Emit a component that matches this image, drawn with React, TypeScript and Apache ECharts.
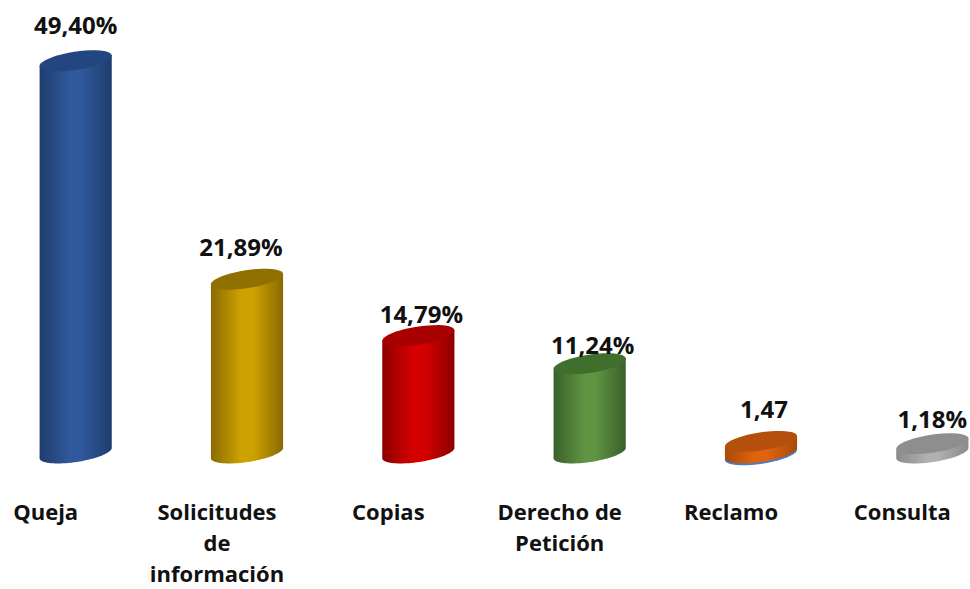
import React, { useEffect, useRef } from "react";
import * as echarts from "echarts";

const categories = ["Queja", "Solicitudes\nde\ninformación", "Copias", "Derecho de\nPetición", "Reclamo", "Consulta"];
const values = [49.4, 21.89, 14.79, 11.24, 1.47, 1.18];
const valueLabels = ["49,40%", "21,89%", "14,79%", "11,24%", "1,47", "1,18%"];

const edgeColors = ["#1f3d6e", "#8a6a00", "#8c0000", "#39602a", "#a84a08", "#8a8a8a"];
const midColors = ["#30589c", "#cda200", "#d40000", "#5f9443", "#e0640f", "#b0b0b0"];
const capColors = ["#234680", "#8f7000", "#a80000", "#406e2c", "#b4500c", "#8e8e8e"];
const rimColors = [null, null, null, null, "#3f7fd0", null];
const labelLift = [36, 33, 22, 19, 33, 25];
const labelShift = [0, -6, 3, 3, 3, 0];

const FONT = "'Open Sans', 'Noto Sans', sans-serif";
const RX = 36.5;
const RY = 9;
const TILT = (8.7 * Math.PI) / 180;

// Points of the tilted ellipse from angle a to angle b, as "x y" strings.
function ellipsePts(cx: number, cy: number, a: number, b: number) {
  const out: string[] = [];
  const n = 40;
  for (let k = 0; k <= n; k++) {
    const t = a + ((b - a) * k) / n;
    const x = cx + RX * Math.cos(t) * Math.cos(TILT) + RY * Math.sin(t) * Math.sin(TILT);
    const y = cy - RX * Math.cos(t) * Math.sin(TILT) + RY * Math.sin(t) * Math.cos(TILT);
    out.push(`${x.toFixed(2)} ${y.toFixed(2)}`);
  }
  return out;
}
const toPath = (pts: string[]) => "M " + pts.join(" L ") + " Z";

export default function App() {
  const ref = useRef<HTMLDivElement>(null);
  useEffect(() => {
    const chart = echarts.init(ref.current!, null, { renderer: "svg" });
    const renderItem = (params: any, api: any) => {
      const i = params.dataIndex;
      const [cx, top] = api.coord([api.value(0), api.value(1)]);
      const [, base] = api.coord([api.value(0), 0]);
      const children: any[] = [];
      const rim = rimColors[i];
      if (rim) {
        children.push({
          type: "path",
          shape: { pathData: toPath(ellipsePts(cx, base + 1.8, 0, Math.PI * 2)) },
          style: { fill: rim },
        });
      }
      const topLeft = ellipsePts(cx, top, Math.PI, Math.PI)[0];
      const topRight = ellipsePts(cx, top, 0, 0)[0];
      children.push({
        type: "path",
        shape: { pathData: toPath([topLeft, ...ellipsePts(cx, base, Math.PI, 0), topRight]) },
        style: {
          fill: {
            type: "linear",
            x: 0,
            y: 0,
            x2: 1,
            y2: 0,
            colorStops: [
              { offset: 0, color: edgeColors[i] },
              { offset: 0.42, color: midColors[i] },
              { offset: 0.58, color: midColors[i] },
              { offset: 1, color: edgeColors[i] },
            ],
          },
        },
      });
      children.push({
        type: "path",
        shape: { pathData: toPath(ellipsePts(cx, top, 0, Math.PI * 2)) },
        style: { fill: capColors[i] },
      });
      children.push({
        type: "text",
        x: cx + labelShift[i],
        y: top - labelLift[i],
        style: {
          text: valueLabels[i],
          fontFamily: FONT,
          fontSize: 24,
          fontWeight: 700,
          fill: "#111111",
          textAlign: "center",
          textVerticalAlign: "middle",
        },
      });
      return { type: "group", children };
    };
    chart.setOption({
      animation: false,
      backgroundColor: "#ffffff",
      grid: { left: -10, width: 1028, top: 56, height: 397, outerBoundsMode: "none" },
      xAxis: {
        type: "category",
        data: categories,
        axisLine: { show: false },
        axisTick: { show: false },
        axisLabel: {
          interval: 0,
          margin: 42,
          fontFamily: FONT,
          fontSize: 22,
          fontWeight: 700,
          lineHeight: 31,
          color: "#111111",
          padding: [0, 60, 0, 0],
        },
      },
      yAxis: { type: "value", min: 0, max: 50, show: false },
      series: [
        {
          type: "custom",
          renderItem,
          encode: { x: 0, y: 1 },
          clip: false,
          data: values.map((v, i) => [i, v]),
        },
      ],
    });
    return () => chart.dispose();
  }, []);
  return <div ref={ref} style={{ position: "absolute", left: 0, top: 0, width: 970, height: 589 }} />;
}
